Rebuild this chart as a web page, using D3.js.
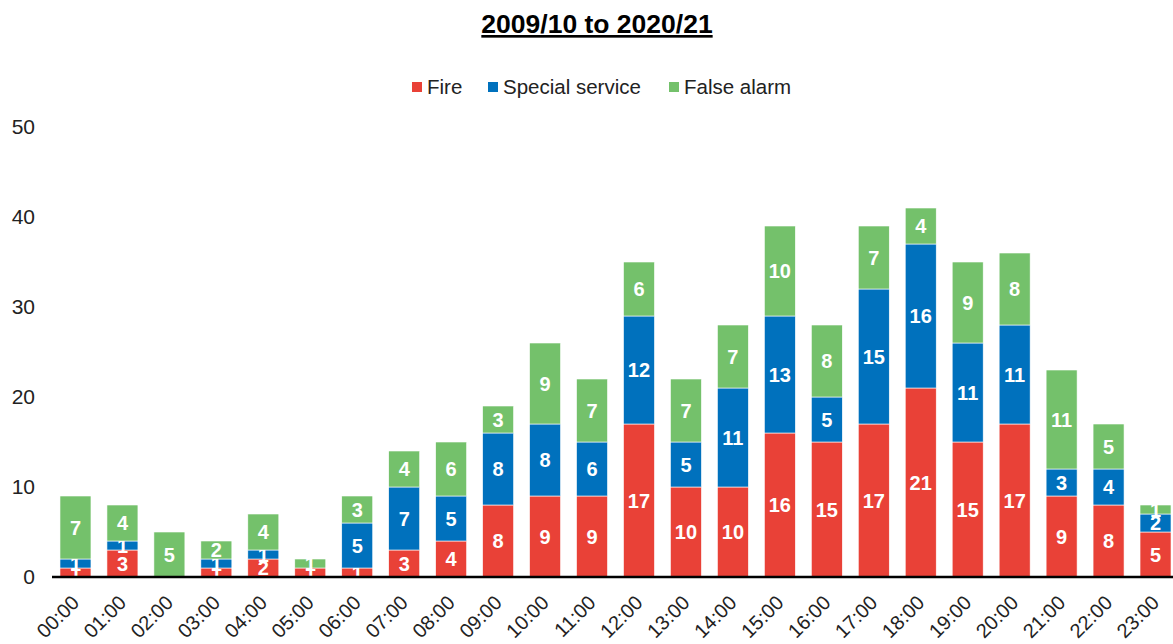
<!DOCTYPE html>
<html>
<head>
<meta charset="utf-8">
<script src="https://cdn.jsdelivr.net/npm/d3@7"></script>
<style>
  body { margin: 0; background: #fff; }
  text { font-family: "Liberation Sans", Arial, sans-serif; }
</style>
</head>
<body>
<div id="chart"></div>
<script>
// data
var hours = ['00:00','01:00','02:00','03:00','04:00','05:00','06:00','07:00','08:00','09:00','10:00','11:00',
             '12:00','13:00','14:00','15:00','16:00','17:00','18:00','19:00','20:00','21:00','22:00','23:00'];
var fire = [1,3,0,1,2,1,1,3,4,8,9,9,17,10,10,16,15,17,21,15,17,9,8,5];
var specialService = [1,1,0,1,1,0,5,7,5,8,8,6,12,5,11,13,5,15,16,11,11,3,4,2];
var falseAlarm = [7,4,5,2,4,1,3,4,6,3,9,7,6,7,7,10,8,7,4,9,8,11,5,1];
var seriesNames = ['Fire', 'Special service', 'False alarm'];
var yTicks = [0, 10, 20, 30, 40, 50];

var width = 1173, height = 644;
var colors = ['#E94137', '#0071BD', '#74C16B'];

var svg = d3.select('#chart').append('svg')
    .attr('width', width)
    .attr('height', height);

var x = d3.scaleBand().domain(hours).range([52, 1179]).paddingInner(0.34).paddingOuter(0.17);
var y = d3.scaleLinear().domain([0, 50]).range([577, 127]);

var rows = hours.map(function(h, i) {
    return { hour: h, 'Fire': fire[i], 'Special service': specialService[i], 'False alarm': falseAlarm[i] };
});
var stacked = d3.stack().keys(seriesNames)(rows);

// title
svg.append('text')
    .attr('x', 597).attr('y', 33)
    .attr('text-anchor', 'middle')
    .style('font-size', '26.5px').style('font-weight', 'bold')
    .style('text-decoration', 'underline')
    .text('2009/10 to 2020/21');

// legend
var legendX = [412, 488, 669];
seriesNames.forEach(function(name, i) {
    var g = svg.append('g').attr('transform', 'translate(' + legendX[i] + ',82)');
    g.append('rect').attr('width', 10).attr('height', 10).attr('fill', colors[i]);
    g.append('text').attr('x', 15).attr('y', 12)
        .style('font-size', '20.5px').attr('fill', '#222').text(name);
});

// y axis labels only
svg.append('g').selectAll('text')
    .data(yTicks).enter().append('text')
    .attr('x', 35).attr('y', function(d) { return y(d); })
    .attr('dy', '0.35em')
    .attr('text-anchor', 'end')
    .style('font-size', '21px').attr('fill', '#222')
    .text(function(d) { return d; });

// bars
var layer = svg.append('g').selectAll('g')
    .data(stacked).enter().append('g')
    .attr('fill', function(d, i) { return colors[i]; });

layer.selectAll('rect')
    .data(function(d) { return d; }).enter().append('rect')
    .attr('x', function(d) { return x(d.data.hour); })
    .attr('width', x.bandwidth())
    .attr('y', function(d) { return y(d[1]); })
    .attr('height', function(d) { return y(d[0]) - y(d[1]); })
    .attr('stroke', '#fff').attr('stroke-width', 0.6);

// value labels
layer.selectAll('text')
    .data(function(d) { return d.filter(function(p) { return p[1] - p[0] > 0; }); }).enter().append('text')
    .attr('x', function(d) { return x(d.data.hour) + x.bandwidth() / 2; })
    .attr('y', function(d) { return (y(d[0]) + y(d[1])) / 2; })
    .attr('dy', '0.36em')
    .attr('text-anchor', 'middle')
    .attr('fill', '#fff')
    .style('font-size', '20px').style('font-weight', 'bold')
    .text(function(d) { return d[1] - d[0]; });

// x axis line
svg.append('line')
    .attr('x1', 52).attr('x2', width)
    .attr('y1', y(0)).attr('y2', y(0))
    .attr('stroke', '#000').attr('stroke-width', 2.5);

// x labels, rotated
svg.append('g').selectAll('text')
    .data(hours).enter().append('text')
    .attr('transform', function(d) {
        return 'translate(' + (x(d) + x.bandwidth() / 2) + ',599) rotate(-45)';
    })
    .attr('text-anchor', 'end')
    .attr('dy', '0.35em')
    .style('font-size', '20px').attr('fill', '#222')
    .text(function(d) { return d; });
</script>
</body>
</html>
